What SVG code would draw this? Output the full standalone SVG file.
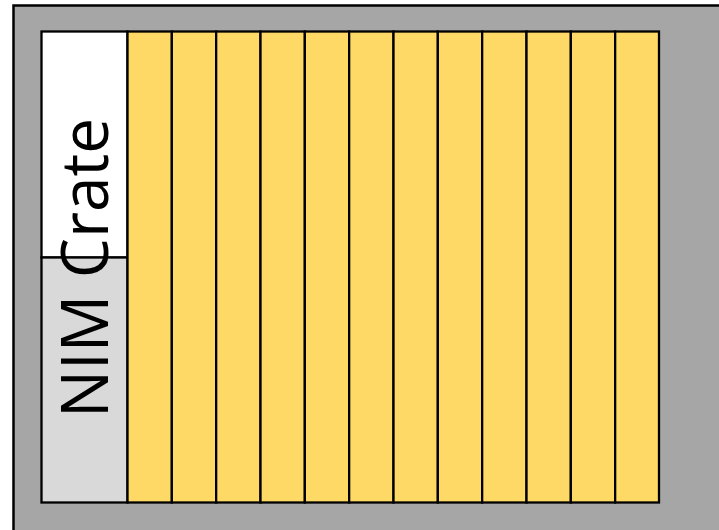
<svg xmlns="http://www.w3.org/2000/svg" width="719" height="530" viewBox="0 0 719 530">
<style>
.slot{fill:#ffd966;stroke:#000;stroke-width:2.3}
.box{stroke:#000;stroke-width:2.3}
</style>
<rect width="719" height="530" fill="#fff"/>
<g id="crate">
<rect x="13.5" y="5.5" width="720" height="540" fill="#a6a6a6" stroke="#000" stroke-width="2.5"/>
</g>
<g id="nim-label">
<rect class="box" x="41.5" y="31.5" width="86" height="226" fill="#fff"/>
<rect class="box" x="41.5" y="257.5" width="86" height="245" fill="#d9d9d9"/>
<text transform="translate(108,268) rotate(-90)" text-anchor="middle" font-family="'Open Sans', sans-serif" font-size="66" textLength="300" lengthAdjust="spacingAndGlyphs" fill="#000">NIM Crate</text>
</g>
<g id="slots">
<rect class="slot" x="127.5" y="31.5" width="44.33" height="471"/>
<rect class="slot" x="171.83" y="31.5" width="44.33" height="471"/>
<rect class="slot" x="216.17" y="31.5" width="44.33" height="471"/>
<rect class="slot" x="260.5" y="31.5" width="44.33" height="471"/>
<rect class="slot" x="304.83" y="31.5" width="44.33" height="471"/>
<rect class="slot" x="349.17" y="31.5" width="44.33" height="471"/>
<rect class="slot" x="393.5" y="31.5" width="44.33" height="471"/>
<rect class="slot" x="437.83" y="31.5" width="44.33" height="471"/>
<rect class="slot" x="482.17" y="31.5" width="44.33" height="471"/>
<rect class="slot" x="526.5" y="31.5" width="44.33" height="471"/>
<rect class="slot" x="570.83" y="31.5" width="44.33" height="471"/>
<rect class="slot" x="615.17" y="31.5" width="43.83" height="471"/>
</g>
</svg>
